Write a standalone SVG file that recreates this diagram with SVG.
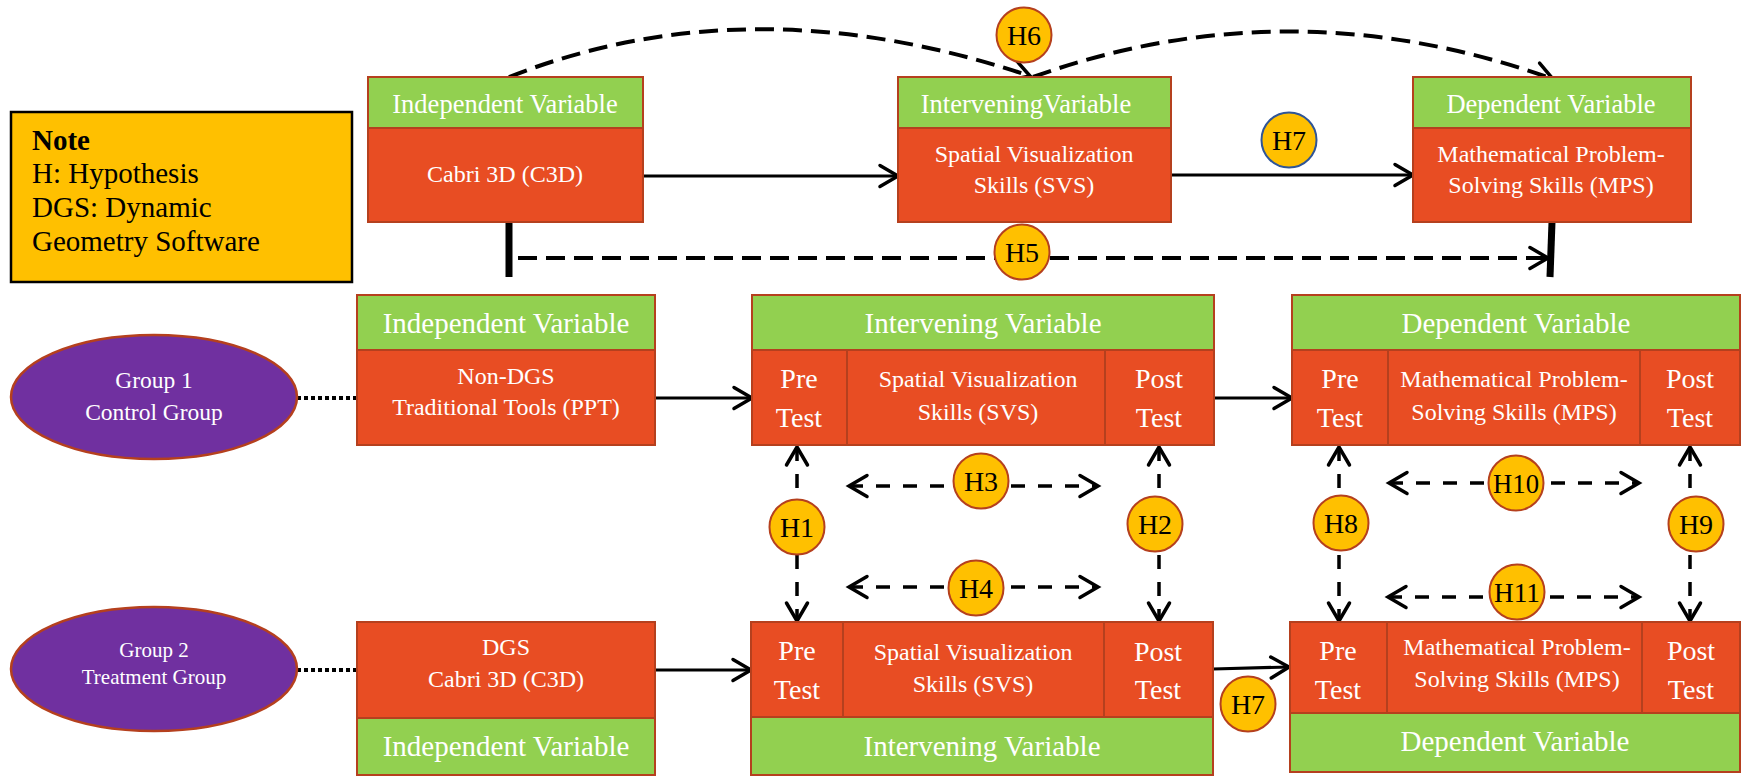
<svg xmlns="http://www.w3.org/2000/svg" width="1741" height="776" viewBox="0 0 1741 776">
<defs>
<style>
text{font-family:"Liberation Serif","Times New Roman",serif}
.g{fill:#92d050;stroke:#b5401e;stroke-width:2}
.r{fill:#e84d23;stroke:#b5401e;stroke-width:2}
.w{fill:#fff;text-anchor:middle}
.f26{font-size:26.5px}
.f29{font-size:29px}
.f24{font-size:24px}
.f28{font-size:28px}
.hc{fill:#ffc000;stroke:#b5401e;stroke-width:2}
.hl{font-size:28px;fill:#000;text-anchor:middle}
.ln{stroke:#000;stroke-width:3.2;fill:none}
.dl{stroke:#000;stroke-width:4;fill:none;stroke-dasharray:19 9}
.ds{stroke:#000;stroke-width:3.5;fill:none;stroke-dasharray:14 13}
.dot{stroke:#000;stroke-width:4;stroke-dasharray:4 3;fill:none}
.thick{stroke:#000;stroke-width:7;fill:none}
.note{font-size:29px;fill:#000}
</style>
<marker id="a" markerUnits="userSpaceOnUse" markerWidth="40" markerHeight="40" viewBox="-30 -20 40 40" refX="0" refY="0" orient="auto-start-reverse" overflow="visible"><path d="M-18,-10.5 L0,0 L-18,10.5" fill="none" stroke="#000" stroke-width="3.5" stroke-linecap="round"/></marker>
</defs>
<rect width="1741" height="776" fill="#fff"/>

<g id="note">
<rect x="11" y="112" width="341" height="170" fill="#ffc000" stroke="#000" stroke-width="2.5"/>
<text x="32" y="150" class="note" font-weight="bold">Note</text>
<text x="32" y="183" class="note">H: Hypothesis</text>
<text x="32" y="217" class="note">DGS: Dynamic</text>
<text x="32" y="251" class="note">Geometry Software</text>
</g>

<g id="connectors">
<path class="dl" d="M509,77 Q750,-18 1030,76" marker-end="url(#a)"/>
<path class="dl" d="M1033,77 Q1290,-15 1553,79" marker-end="url(#a)"/>
<line class="ln" x1="643" y1="176" x2="898" y2="176" marker-end="url(#a)"/>
<line class="ln" x1="1171" y1="175" x2="1413" y2="175" marker-end="url(#a)"/>
<line class="thick" x1="509" y1="222" x2="509" y2="277"/>
<line class="thick" x1="1552" y1="222" x2="1550" y2="277"/>
<line class="dl" x1="518" y1="258" x2="1548" y2="258" marker-end="url(#a)"/>
<line class="dot" x1="297" y1="398" x2="357" y2="398"/>
<line class="dot" x1="297" y1="670" x2="357" y2="670"/>
<line class="ln" x1="655" y1="398" x2="752" y2="398" marker-end="url(#a)"/>
<line class="ln" x1="1214" y1="398" x2="1292" y2="398" marker-end="url(#a)"/>
<line class="ln" x1="655" y1="670" x2="751" y2="670" marker-end="url(#a)"/>
<line class="ln" x1="1213" y1="669" x2="1289" y2="667" marker-end="url(#a)"/>
<line class="ds" x1="797" y1="447" x2="797" y2="621" marker-start="url(#a)" marker-end="url(#a)"/>
<line class="ds" x1="1159" y1="447" x2="1159" y2="621" marker-start="url(#a)" marker-end="url(#a)"/>
<line class="ds" x1="1339" y1="447" x2="1339" y2="621" marker-start="url(#a)" marker-end="url(#a)"/>
<line class="ds" x1="1690" y1="447" x2="1690" y2="621" marker-start="url(#a)" marker-end="url(#a)"/>
<line class="ds" x1="849" y1="486" x2="1098" y2="486" marker-start="url(#a)" marker-end="url(#a)"/>
<line class="ds" x1="849" y1="587" x2="1098" y2="587" marker-start="url(#a)" marker-end="url(#a)"/>
<line class="ds" x1="1389" y1="483" x2="1639" y2="483" marker-start="url(#a)" marker-end="url(#a)"/>
<line class="ds" x1="1388" y1="597" x2="1639" y2="597" marker-start="url(#a)" marker-end="url(#a)"/>
</g>

<g id="top-independent">
<rect class="g" x="368" y="77" width="275" height="51"/>
<rect class="r" x="368" y="128" width="275" height="94"/>
<text class="w f26" x="505" y="113">Independent Variable</text>
<text class="w f24" x="505" y="182">Cabri 3D (C3D)</text>
</g>

<g id="top-intervening">
<rect class="g" x="898" y="77" width="273" height="51"/>
<rect class="r" x="898" y="128" width="273" height="94"/>
<text class="w f26" x="1026" y="113">InterveningVariable</text>
<text class="w f24" x="1034" y="162">Spatial Visualization</text>
<text class="w f24" x="1034" y="193">Skills (SVS)</text>
</g>

<g id="top-dependent">
<rect class="g" x="1413" y="77" width="278" height="51"/>
<rect class="r" x="1413" y="128" width="278" height="94"/>
<text class="w f26" x="1551" y="113">Dependent Variable</text>
<text class="w f24" x="1551" y="162">Mathematical Problem-</text>
<text class="w f24" x="1551" y="193">Solving Skills (MPS)</text>
</g>

<g id="group1">
<ellipse cx="154" cy="397" rx="143" ry="62" fill="#7030a0" stroke="#b5401e" stroke-width="2.5"/>
<text class="w" font-size="23.5" x="154" y="388">Group 1</text>
<text class="w" font-size="23.5" x="154" y="420">Control Group</text>
</g>

<g id="group2">
<ellipse cx="154" cy="669" rx="143" ry="62" fill="#7030a0" stroke="#b5401e" stroke-width="2.5"/>
<text class="w" font-size="21" x="154" y="657">Group 2</text>
<text class="w" font-size="21" x="154" y="684">Treatment Group</text>
</g>

<g id="control-independent">
<rect class="g" x="357" y="295" width="298" height="55"/>
<rect class="r" x="357" y="350" width="298" height="95"/>
<text class="w f29" x="506" y="333">Independent Variable</text>
<text class="w f24" x="506" y="384">Non-DGS</text>
<text class="w f24" x="506" y="415">Traditional Tools (PPT)</text>
</g>

<g id="control-intervening">
<rect class="g" x="752" y="295" width="462" height="55"/>
<rect class="r" x="752" y="350" width="95" height="95"/>
<rect class="r" x="847" y="350" width="258" height="95"/>
<rect class="r" x="1105" y="350" width="109" height="95"/>
<text class="w f29" x="983" y="333">Intervening Variable</text>
<text class="w f28" x="799" y="388">Pre</text>
<text class="w f28" x="799" y="427">Test</text>
<text class="w f24" x="978" y="387">Spatial Visualization</text>
<text class="w f24" x="978" y="420">Skills (SVS)</text>
<text class="w f28" x="1159" y="388">Post</text>
<text class="w f28" x="1159" y="427">Test</text>
</g>

<g id="control-dependent">
<rect class="g" x="1292" y="295" width="448" height="55"/>
<rect class="r" x="1292" y="350" width="96" height="95"/>
<rect class="r" x="1388" y="350" width="252" height="95"/>
<rect class="r" x="1640" y="350" width="100" height="95"/>
<text class="w f29" x="1516" y="333">Dependent Variable</text>
<text class="w f28" x="1340" y="388">Pre</text>
<text class="w f28" x="1340" y="427">Test</text>
<text class="w f24" x="1514" y="387">Mathematical Problem-</text>
<text class="w f24" x="1514" y="420">Solving Skills (MPS)</text>
<text class="w f28" x="1690" y="388">Post</text>
<text class="w f28" x="1690" y="427">Test</text>
</g>

<g id="treatment-independent">
<rect class="r" x="357" y="622" width="298" height="96"/>
<rect class="g" x="357" y="718" width="298" height="57"/>
<text class="w f24" x="506" y="655">DGS</text>
<text class="w f24" x="506" y="687">Cabri 3D (C3D)</text>
<text class="w f29" x="506" y="756">Independent Variable</text>
</g>

<g id="treatment-intervening">
<rect class="r" x="751" y="622" width="92" height="95"/>
<rect class="r" x="843" y="622" width="261" height="95"/>
<rect class="r" x="1104" y="622" width="109" height="95"/>
<rect class="g" x="751" y="717" width="462" height="58"/>
<text class="w f28" x="797" y="660">Pre</text>
<text class="w f28" x="797" y="699">Test</text>
<text class="w f24" x="973" y="660">Spatial Visualization</text>
<text class="w f24" x="973" y="692">Skills (SVS)</text>
<text class="w f28" x="1158" y="661">Post</text>
<text class="w f28" x="1158" y="699">Test</text>
<text class="w f29" x="982" y="756">Intervening Variable</text>
</g>

<g id="treatment-dependent">
<rect class="r" x="1290" y="622" width="97" height="91"/>
<rect class="r" x="1387" y="622" width="255" height="91"/>
<rect class="r" x="1642" y="622" width="98" height="91"/>
<rect class="g" x="1290" y="713" width="450" height="59"/>
<text class="w f28" x="1338" y="660">Pre</text>
<text class="w f28" x="1338" y="699">Test</text>
<text class="w f24" x="1517" y="655">Mathematical Problem-</text>
<text class="w f24" x="1517" y="687">Solving Skills (MPS)</text>
<text class="w f28" x="1691" y="660">Post</text>
<text class="w f28" x="1691" y="699">Test</text>
<text class="w f29" x="1515" y="751">Dependent Variable</text>
</g>

<g id="hypotheses">
<g id="H6"><circle class="hc" cx="1024" cy="35" r="27.5"/><text class="hl" x="1024" y="45">H6</text></g>
<g id="H7-top"><circle class="hc" cx="1289" cy="140" r="27.5" stroke="#2f5597" style="stroke:#2f5597"/><text class="hl" x="1289" y="150">H7</text></g>
<g id="H5"><circle class="hc" cx="1022" cy="252" r="27.5"/><text class="hl" x="1022" y="262">H5</text></g>
<g id="H1"><circle class="hc" cx="797" cy="527" r="27.5"/><text class="hl" x="797" y="537">H1</text></g>
<g id="H2"><circle class="hc" cx="1155" cy="524" r="27.5"/><text class="hl" x="1155" y="534">H2</text></g>
<g id="H3"><circle class="hc" cx="981" cy="481" r="27.5"/><text class="hl" x="981" y="491">H3</text></g>
<g id="H4"><circle class="hc" cx="976" cy="588" r="27.5"/><text class="hl" x="976" y="598">H4</text></g>
<g id="H8"><circle class="hc" cx="1341" cy="523" r="27.5"/><text class="hl" x="1341" y="533">H8</text></g>
<g id="H9"><circle class="hc" cx="1696" cy="524" r="27.5"/><text class="hl" x="1696" y="534">H9</text></g>
<g id="H10"><circle class="hc" cx="1516" cy="483" r="27.5"/><text class="hl" x="1516" y="493" textLength="46" lengthAdjust="spacingAndGlyphs">H10</text></g>
<g id="H11"><circle class="hc" cx="1517" cy="592" r="27.5"/><text class="hl" x="1517" y="602" textLength="46" lengthAdjust="spacingAndGlyphs">H11</text></g>
<g id="H7-bottom"><circle class="hc" cx="1248" cy="704" r="27.5"/><text class="hl" x="1248" y="714">H7</text></g>
</g>
</svg>
